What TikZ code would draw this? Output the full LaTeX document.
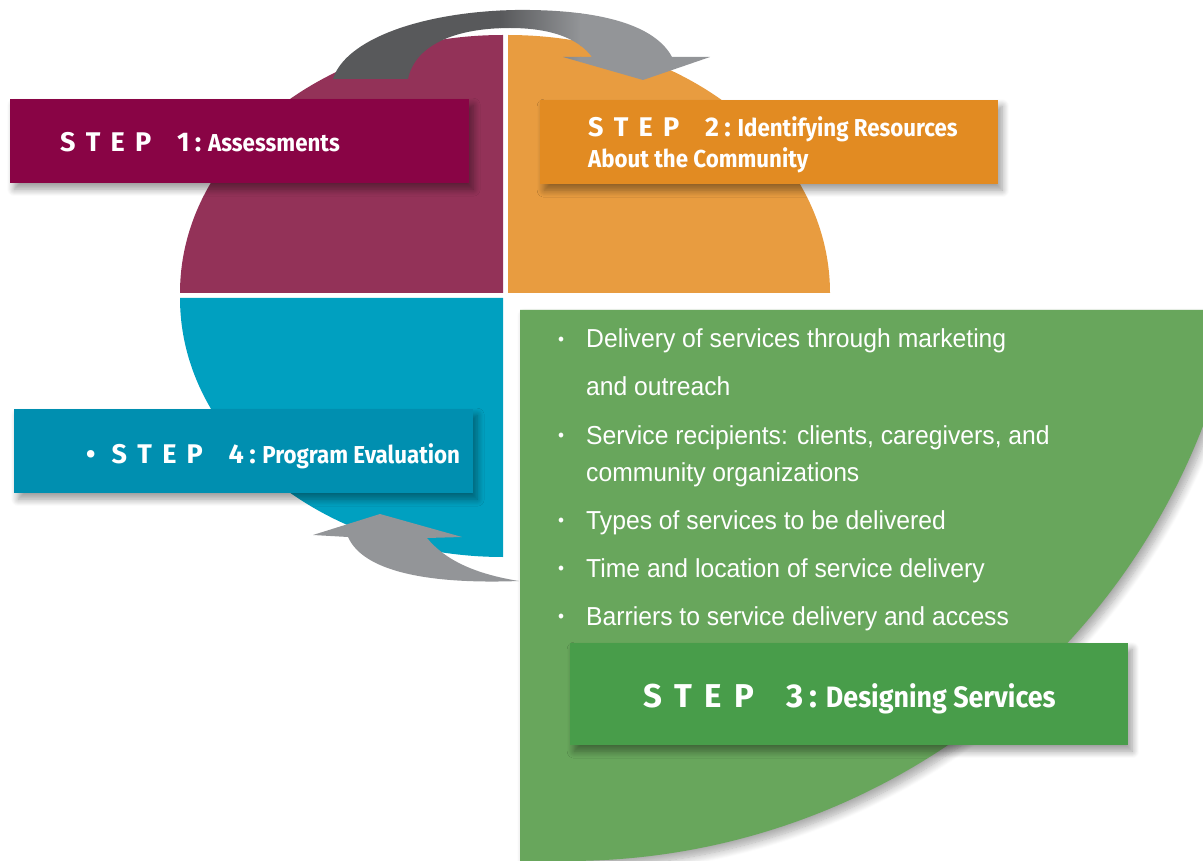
\documentclass[tikz,border=0pt]{standalone}
\usepackage{fontspec}
\setmainfont{Fira Sans}
\newfontfamily\descfont[FakeStretch=0.91]{Fira Sans}
\newfontfamily\bodyfont[FakeStretch=0.95]{Liberation Sans}
\usetikzlibrary{shadows.blur}
\definecolor{magq}{HTML}{933258}
\definecolor{magb}{HTML}{890445}
\definecolor{orq}{HTML}{E89C40}
\definecolor{orb}{HTML}{E28B22}
\definecolor{cyq}{HTML}{00A0C0}
\definecolor{cyb}{HTML}{008FB0}
\definecolor{grq}{HTML}{68A65C}
\definecolor{grb}{HTML}{489D4A}
\definecolor{arrdark}{HTML}{58595B}
\definecolor{arrlight}{HTML}{939598}
\newcommand{\stepw}[1]{S\kern.38em T\kern.38em E\kern.38em P\kern.95em #1\kern.2em:}
\tikzset{
  stepbox/.style={draw=none, inner sep=0pt, anchor=north west,
    blur shadow={shadow xshift=4pt, shadow yshift=-6pt, shadow blur radius=7pt, shadow blur steps=10, shadow opacity=40}},
  heading/.style={anchor=base west, inner sep=0pt, text=white},
  bodytxt/.style={anchor=base west, inner sep=0pt, text=white, font=\bodyfont\fontsize{26}{30}\selectfont},
  bul/.style={anchor=base west, inner sep=0pt, text=white, font=\bodyfont\fontsize{18}{20}\selectfont}
}
\begin{document}
\begin{tikzpicture}[x=1pt,y=-1pt]
\useasboundingbox (0,0) rectangle (1203,861);
% quarters
\fill[magq] (503,293) -- (180,293) arc[start angle=180, end angle=270, x radius=323, y radius=258] -- cycle;
\fill[orq] (508,293) -- (508,35) arc[start angle=270, end angle=360, x radius=322, y radius=258] -- cycle;
\fill[cyq] (503,298) -- (180,298) arc[start angle=180, end angle=90, x radius=323, y radius=259] -- cycle;
% green shape
\path[fill=grq, blur shadow={shadow xshift=5pt, shadow yshift=-6pt, shadow blur radius=8pt, shadow blur steps=10, shadow opacity=35}]
  (520,310) -- (1203,310) -- (1203,426) arc[start angle=21.18, end angle=90, radius=681] -- (520,861) -- cycle;
% top arrow
\begin{scope}
\clip (333,79) .. controls (345,40) and (420,12) .. (515,10)
  .. controls (600,9) and (655,25) .. (672,57)
  -- (710,57) -- (643,80) -- (563,57) -- (592,57)
  .. controls (578,38) and (550,28) .. (510,28)
  .. controls (455,28) and (415,45) .. (408,79) -- cycle;
\fill[arrdark] (300,0) rectangle (501,100);
\shade[left color=arrdark, right color=arrlight] (500,0) rectangle (581,100);
\fill[arrlight] (580,0) rectangle (720,100);
\end{scope}
% bottom arrow
\fill[arrlight] (313,535) -- (380,514) -- (462,537) -- (427,538)
  .. controls (445,560) and (475,574) .. (519,581)
  .. controls (440,584) and (365,575) .. (348,537) -- cycle;
% boxes
\node[stepbox, fill=magb, minimum width=459, minimum height=84] (b1) at (10,99) {};
\node[stepbox, fill=orb, minimum width=458, minimum height=84] (b2) at (540,100) {};
\node[stepbox, fill=cyb, minimum width=459, minimum height=84] (b4) at (14,409) {};
\node[stepbox, fill=grb, minimum width=558, minimum height=102] (b3) at (570,643) {};
% headings
\node[heading] (h1) at (60,152) {\fontsize{27}{30}\selectfont\bfseries\stepw{1}\hspace{.25em}{\descfont\bfseries\fontsize{24.5}{28}\selectfont Assessments}};
\node[heading] (h2) at (588,137) {\fontsize{27}{30}\selectfont\bfseries\stepw{2}\hspace{.25em}{\descfont\bfseries\fontsize{24.5}{28}\selectfont Identifying Resources}};
\node[heading] (h2b) at (588,168) {\descfont\bfseries\fontsize{24.5}{28}\selectfont About the Community};
\node[heading] (h4) at (86,463) {\fontsize{27}{30}\selectfont\bfseries\textbullet\kern.6em\stepw{4}\hspace{.25em}{\descfont\bfseries\fontsize{24.5}{28}\selectfont Program Evaluation}};
\node[heading] (h3) at (643,707) {\fontsize{33}{36}\selectfont\bfseries\stepw{3}\hspace{.25em}{\descfont\bfseries\fontsize{29.5}{32}\selectfont Designing Services}};
% bullet list
\node[bul] (p1) at (558,345) {•};
\node[bodytxt] (l1) at (586,348) {Delivery of services through marketing};
\node[bodytxt] (l1b) at (586,395) {and outreach};
\node[bul] (p2) at (558,441) {•};
\node[bodytxt] (l2) at (586,444) {Service recipients: clients, caregivers, and};
\node[bodytxt] (l2b) at (586,481) {community organizations};
\node[bul] (p3) at (558,526) {•};
\node[bodytxt] (l3) at (586,529) {Types of services to be delivered};
\node[bul] (p4) at (558,574) {•};
\node[bodytxt] (l4) at (586,577) {Time and location of service delivery};
\node[bul] (p5) at (558,622) {•};
\node[bodytxt] (l5) at (586,625) {Barriers to service delivery and access};
\end{tikzpicture}
\end{document}
